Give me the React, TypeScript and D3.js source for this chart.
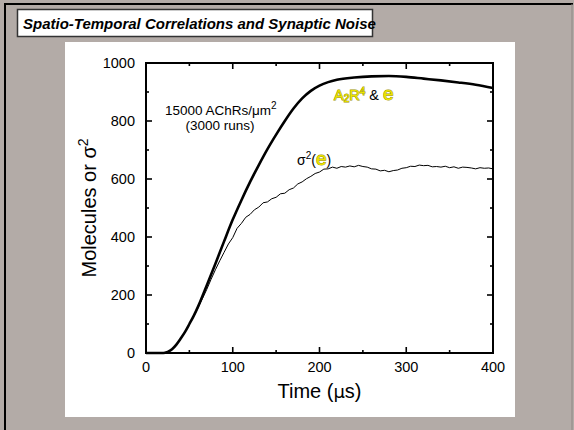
import React from "react";
import * as d3 from "d3";

// thick curve: A2R4 & e (mean molecules)
const meanTimes = [0, 10, 20, 25, 30, 35, 40, 45, 50, 55, 60, 70, 80, 90, 100, 110, 120, 130, 140, 150, 160, 170, 180, 190, 200, 210, 220, 240, 260, 280, 300, 320, 340, 360, 380, 400];
const meanValues = [0, 0, 0, 4, 13, 29, 50, 73, 100, 128, 160, 233, 308, 385, 460, 527, 590, 648, 703, 753, 800, 843, 878, 904, 922, 934, 942, 950, 954, 955, 952, 946, 940, 933, 925, 914];

// thin noisy curve: variance sigma^2(e)
const varTimes = [0, 5, 10, 15, 20, 25, 30, 35, 40, 45, 50, 55, 60, 65, 70, 75, 80, 85, 90, 95, 100, 105, 110, 115, 120, 125, 130, 135, 140, 145, 150, 155, 160, 165, 170, 175, 180, 185, 190, 195, 200, 205, 210, 215, 220, 225, 230, 235, 240, 245, 250, 255, 260, 265, 270, 275, 280, 285, 290, 295, 300, 305, 310, 315, 320, 325, 330, 335, 340, 345, 350, 355, 360, 365, 370, 375, 380, 385, 390, 395, 400];
const varValues = [0, 0, 0, 0, 1, 4, 13, 29, 50, 73, 99, 127, 156, 187, 219, 254, 287, 318, 347, 376, 398, 430, 447, 468, 478, 494, 503, 518, 521, 532, 537, 549, 551, 563, 569, 583, 590, 601, 609, 619, 624, 634, 635, 641, 637, 643, 641, 645, 642, 647, 643, 641, 635, 634, 628, 630, 625, 629, 631, 637, 639, 644, 643, 648, 646, 647, 642, 643, 641, 644, 639, 642, 637, 641, 640, 638, 635, 639, 637, 638, 635];

const xMajor = [0, 100, 200, 300, 400];
const xMinor = [50, 150, 250, 350];
const yMajor = [0, 200, 400, 600, 800, 1000];
const yMinor = [100, 300, 500, 700, 900];

const FONT = "'Liberation Sans', Arial, Helvetica, sans-serif";
const YELLOW = "#ece400";
const OUTLINE = "#9a9300";

export default function App() {
  const W = 574;
  const H = 430;
  const left = 146, right = 493, top = 63, bottom = 353;

  const x = d3.scaleLinear().domain([0, 400]).range([left, right]);
  const y = d3.scaleLinear().domain([0, 1000]).range([bottom, top]);

  const meanLine = d3
    .line<number>()
    .x((d, i) => x(meanTimes[i]))
    .y(d => y(d))
    .curve(d3.curveMonotoneX);
  const varLine = d3
    .line<number>()
    .x((d, i) => x(varTimes[i]))
    .y(d => y(d));

  const major = 6;
  const minor = 3;

  const hl = { fill: YELLOW, stroke: OUTLINE, strokeWidth: 1, paintOrder: "stroke" } as any;

  return (
    <svg width={W} height={H} style={{ position: "absolute", left: 0, top: 0 }} fontFamily={FONT}>
      <rect x={0} y={0} width={W} height={H} fill="#b3aba7" />
      <line x1={5} y1={3} x2={5} y2={H} stroke="#000" strokeWidth={2} />
      <line x1={4} y1={4} x2={573} y2={4} stroke="#000" strokeWidth={2} />
      <line x1={572} y1={4} x2={572} y2={H} stroke="#8e8783" strokeWidth={1} />

      {/* title box */}
      <rect x={17.5} y={9.5} width={355} height={27} fill="#fff" stroke="#333" strokeWidth={1.5} />
      <text x={23} y={29} fontSize={15} fontWeight="bold" fontStyle="italic" fill="#000">
        Spatio-Temporal Correlations and Synaptic Noise
      </text>

      {/* white panel */}
      <rect x={65} y={42} width={450} height={375} fill="#fff" />

      {/* curves */}
      <path d={varLine(varValues) || ""} fill="none" stroke="#000" strokeWidth={1} strokeLinejoin="round" />
      <path d={meanLine(meanValues) || ""} fill="none" stroke="#000" strokeWidth={2.6} strokeLinejoin="round" />

      {/* frame */}
      <rect x={left} y={top} width={right - left} height={bottom - top} fill="none" stroke="#000" strokeWidth={2} />

      {/* ticks */}
      <g stroke="#000" strokeWidth={1.6}>
        {xMajor.slice(1, -1).map(t => (
          <g key={"xM" + t}>
            <line x1={x(t)} x2={x(t)} y1={bottom} y2={bottom - major} />
            <line x1={x(t)} x2={x(t)} y1={top} y2={top + major} />
          </g>
        ))}
        {xMinor.map(t => (
          <g key={"xm" + t}>
            <line x1={x(t)} x2={x(t)} y1={bottom} y2={bottom - minor} />
            <line x1={x(t)} x2={x(t)} y1={top} y2={top + minor} />
          </g>
        ))}
        {yMajor.slice(1, -1).map(v => (
          <g key={"yM" + v}>
            <line x1={left} x2={left + major} y1={y(v)} y2={y(v)} />
            <line x1={right} x2={right - major} y1={y(v)} y2={y(v)} />
          </g>
        ))}
        {yMinor.map(v => (
          <g key={"ym" + v}>
            <line x1={left} x2={left + minor} y1={y(v)} y2={y(v)} />
            <line x1={right} x2={right - minor} y1={y(v)} y2={y(v)} />
          </g>
        ))}
      </g>

      {/* tick labels */}
      <g fontSize={14.5} fill="#000">
        {xMajor.map(t => (
          <text key={"xl" + t} x={x(t)} y={372} textAnchor="middle">{t}</text>
        ))}
        {yMajor.map(v => (
          <text key={"yl" + v} x={135} y={y(v)} dy="0.35em" textAnchor="end">{v}</text>
        ))}
      </g>

      {/* axis titles */}
      <text x={(left + right) / 2} y={398} textAnchor="middle" fontSize={20}>
        Time (<tspan fontFamily="'DejaVu Sans', sans-serif" fontSize={18}>μ</tspan>s)
      </text>
      <text transform={`translate(96,${(top + bottom) / 2}) rotate(-90)`} textAnchor="middle" fontSize={20}>
        Molecules or σ<tspan dy={-8} fontSize={14}>2</tspan>
      </text>

      {/* annotations */}
      <text x={165} y={115} fontSize={13.5}>
        15000 AChRs/μm<tspan dy={-6} fontSize={10}>2</tspan>
      </text>
      <text x={220} y={130} fontSize={13.5} textAnchor="middle">(3000 runs)</text>

      <text x={334} y={100} fontSize={14.5}>
        <tspan {...hl}>A</tspan>
        <tspan {...hl} dy={2} fontSize={10}>2</tspan>
        <tspan {...hl} dy={-2}>R</tspan>
        <tspan {...hl} dy={-5} fontSize={10}>4</tspan>
        <tspan fill="#000" dy={5}> &amp; </tspan>
        <tspan {...hl} fontSize={19}>e</tspan>
      </text>

      <text x={297} y={165} fontSize={14}>
        σ<tspan dy={-6} fontSize={10}>2</tspan>
        <tspan dy={6}>(</tspan>
        <tspan {...hl} fontSize={19}>e</tspan>
        <tspan>)</tspan>
      </text>
    </svg>
  );
}
